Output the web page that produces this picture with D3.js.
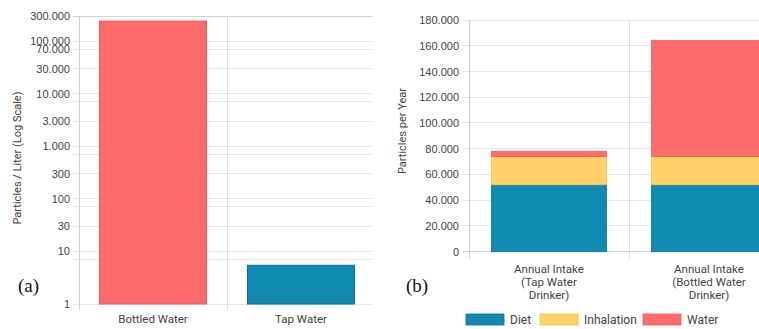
<!DOCTYPE html>
<html>
<head>
<meta charset="utf-8">
<script src="https://cdn.jsdelivr.net/npm/d3@7"></script>
<style>
  html, body { margin: 0; padding: 0; background: #fff; }
  svg { display: block; font-family: Roboto, "Liberation Sans", Arial, sans-serif; }
</style>
</head>
<body>
<svg id="chart" width="759" height="329"></svg>
<script>
// Panel (a): concentration per litre, log scale
const waterTypes = ["Bottled Water", "Tap Water"];
const concentration = [240000, 5.45];
const logTickValues = [1, 10, 30, 100, 300, 1000, 3000, 10000, 30000, 70000, 100000, 300000];
const logExtraGrid = [7, 70, 700, 7000];

// Panel (b): annual intake, stacked by source
const drinkerGroups = [["Annual Intake", "(Tap Water", "Drinker)"], ["Annual Intake", "(Bottled Water", "Drinker)"]];
const sources = ["Diet", "Inhalation", "Water"];
const dietIntake = [52000, 52000];
const inhalationIntake = [22000, 22000];
const waterIntake = [4000, 90000];
const linearTickValues = [0, 20000, 40000, 60000, 80000, 100000, 120000, 140000, 160000, 180000];

const colors = { Diet: "#118AB2", Inhalation: "#FFD166", Water: "#FF6B6B" };
const strokes = { Diet: "#0d6f8f", Inhalation: "#f2c14e", Water: "#f25a5a" };

const loc = d3.formatLocale({ decimal: ",", thousands: ".", grouping: [3], currency: ["", ""] });
const fmt = loc.format(",d");

const svg = d3.select("#chart");
const gridColor = "#e6e6e6";
const axisColor = "#cccccc";
const textColor = "#444";

// ---------- Panel (a) ----------
const a = { left: 79, right: 375, top: 16, bottom: 304, gridEnd: 372 };
const xA = d3.scaleBand().domain(waterTypes).range([a.left, a.right]).paddingInner(0.277).paddingOuter(0.1385);
const yA = d3.scaleLog().domain([1, 300000]).range([a.bottom, a.top]);

const gA = svg.append("g");

gA.append("g").selectAll("line").data(logExtraGrid.concat(logTickValues)).join("line")
  .attr("x1", a.left - 6).attr("x2", a.gridEnd)
  .attr("y1", d => yA(d)).attr("y2", d => yA(d))
  .attr("stroke", d => d === 300000 ? "#d0d0d0" : gridColor).attr("stroke-width", 1)
  .attr("shape-rendering", "crispEdges");

const axisA = gA.append("g").attr("transform", `translate(${a.left - 6},0)`)
  .call(d3.axisLeft(yA).tickValues(logTickValues).tickFormat(fmt).tickSize(0).tickPadding(3));
axisA.select(".domain").remove();
axisA.selectAll("text").attr("fill", textColor).style("font-size", "11px");

// vertical axis and band separator
gA.append("g").selectAll("line").data([a.left, a.left + xA.step()]).join("line")
  .attr("x1", d => d).attr("x2", d => d)
  .attr("y1", a.top).attr("y2", a.bottom + 6)
  .attr("stroke", d => d === a.left ? axisColor : "#dddddd")
  .attr("shape-rendering", "crispEdges");

gA.append("g").selectAll("rect").data(waterTypes).join("rect")
  .attr("x", d => xA(d))
  .attr("width", xA.bandwidth())
  .attr("y", (d, i) => yA(concentration[i]))
  .attr("height", (d, i) => yA(1) - yA(concentration[i]))
  .attr("fill", (d, i) => i === 0 ? colors.Water : colors.Diet)
  .attr("stroke", (d, i) => i === 0 ? strokes.Water : strokes.Diet)
  .attr("stroke-width", 1);

gA.append("g").selectAll("text").data(waterTypes).join("text")
  .attr("x", d => xA(d) + xA.bandwidth() / 2)
  .attr("y", 323)
  .attr("text-anchor", "middle")
  .attr("fill", textColor).style("font-size", "11.5px")
  .text(d => d);

gA.append("text")
  .attr("transform", `translate(21,158) rotate(-90)`)
  .attr("text-anchor", "middle")
  .attr("fill", textColor).style("font-size", "11px")
  .text("Particles / Liter (Log Scale)");

gA.append("text").attr("x", 18).attr("y", 292)
  .style("font-family", "'Liberation Serif', 'Times New Roman', serif").style("font-size", "19px")
  .attr("fill", "#111").text("(a)");

// ---------- Panel (b) ----------
const b = { left: 469, right: 789, top: 20, bottom: 251.7 };
const groupKeys = drinkerGroups.map((d, i) => "g" + i);
const xB = d3.scaleBand().domain(groupKeys).range([b.left, b.right]).paddingInner(0.281).paddingOuter(0.1405);
const yB = d3.scaleLinear().domain([0, 180000]).range([b.bottom, b.top]);

const table = groupKeys.map((k, i) => ({ key: k, Diet: dietIntake[i], Inhalation: inhalationIntake[i], Water: waterIntake[i] }));
const stacked = d3.stack().keys(sources)(table);

const gB = svg.append("g");

gB.append("g").selectAll("line").data(linearTickValues).join("line")
  .attr("x1", b.left - 6).attr("x2", 759)
  .attr("y1", d => yB(d)).attr("y2", d => yB(d))
  .attr("stroke", d => d === 0 ? "#cfcfcf" : gridColor)
  .attr("shape-rendering", "crispEdges");

const axisB = gB.append("g").attr("transform", `translate(${b.left - 7},0)`)
  .call(d3.axisLeft(yB).tickValues(linearTickValues).tickFormat(fmt).tickSize(0).tickPadding(3));
axisB.select(".domain").remove();
axisB.selectAll("text").attr("fill", textColor).style("font-size", "11px");

gB.append("g").selectAll("line").data([b.left, b.left + xB.step()]).join("line")
  .attr("x1", d => d).attr("x2", d => d)
  .attr("y1", b.top).attr("y2", b.bottom + 7)
  .attr("stroke", d => d === b.left ? axisColor : "#dddddd")
  .attr("shape-rendering", "crispEdges");

gB.append("g").selectAll("g").data(stacked).join("g")
  .attr("fill", s => colors[s.key])
  .attr("stroke", s => strokes[s.key])
  .attr("stroke-width", 0.8)
  .selectAll("rect").data(s => s).join("rect")
  .attr("x", d => xB(d.data.key))
  .attr("width", xB.bandwidth())
  .attr("y", d => yB(d[1]))
  .attr("height", d => yB(d[0]) - yB(d[1]));

const labelsB = gB.append("g").selectAll("text").data(groupKeys).join("text")
  .attr("x", d => xB(d) + xB.bandwidth() / 2)
  .attr("y", 273)
  .attr("text-anchor", "middle")
  .attr("fill", textColor).style("font-size", "11.5px");
labelsB.selectAll("tspan").data((d, i) => drinkerGroups[i]).join("tspan")
  .attr("x", function () { return d3.select(this.parentNode).attr("x"); })
  .attr("dy", (d, i) => i === 0 ? 0 : 13)
  .text(d => d);

gB.append("text")
  .attr("transform", `translate(406,131) rotate(-90)`)
  .attr("text-anchor", "middle")
  .attr("fill", textColor).style("font-size", "11px")
  .text("Particles per Year");

gB.append("text").attr("x", 406).attr("y", 292)
  .style("font-family", "'Liberation Serif', 'Times New Roman', serif").style("font-size", "19px")
  .attr("fill", "#111").text("(b)");

// legend
const legendX = [466, 540, 643];
const legend = gB.append("g").selectAll("g").data(sources).join("g")
  .attr("transform", (d, i) => `translate(${legendX[i]},314)`);
legend.append("rect").attr("width", 38).attr("height", 11)
  .attr("fill", d => colors[d]).attr("stroke", d => strokes[d]).attr("stroke-width", 0.8);
legend.append("text").attr("x", 44).attr("y", 10)
  .attr("fill", textColor).style("font-size", "12px").text(d => d);
</script>
</body>
</html>
